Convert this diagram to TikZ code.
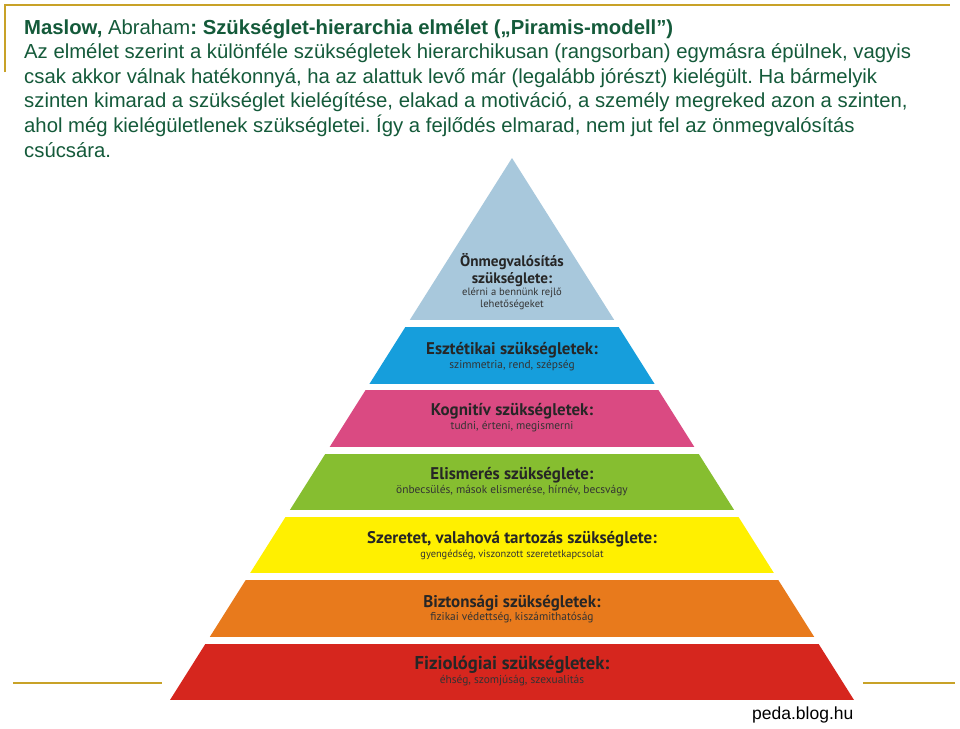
\documentclass[tikz,border=0pt]{standalone}
\usepackage{fontspec}
\setmainfont{Liberation Sans}
\newfontfamily\pyrfont{PT Sans}
\usepackage{xcolor}
\usepackage{tikz}
\usetikzlibrary{positioning}
\frenchspacing

\definecolor{hdgreen}{RGB}{20,90,58}
\definecolor{goldline}{RGB}{200,162,40}
\definecolor{lvlA}{RGB}{168,200,220}
\definecolor{lvlB}{RGB}{22,158,220}
\definecolor{lvlC}{RGB}{218,74,130}
\definecolor{lvlD}{RGB}{134,190,48}
\definecolor{lvlE}{RGB}{255,240,0}
\definecolor{lvlF}{RGB}{232,122,28}
\definecolor{lvlG}{RGB}{214,38,30}

\begin{document}
\begin{tikzpicture}[
    x=1pt, y=-1pt,
    gold/.style={draw=goldline, line width=2.5pt},
    hdtext/.style={anchor=north west, inner sep=0pt, align=left, text=hdgreen, font=\fontsize{20.3}{24.6}\selectfont},
    ttl/.style={inner sep=0pt, align=center, text=black!85, font=\pyrfont\bfseries\fontsize{16.9}{17}\selectfont},
    sub/.style={inner sep=0pt, align=center, text=black!80, font=\pyrfont\fontsize{11.4}{12.5}\selectfont}
]
    \useasboundingbox [fill=white] (0,0) rectangle (960,728);

    % frame lines
    \draw [gold] (5,72) -- (5,5) -- (950,5);
    \draw [gold] (13,683) -- (162,683);
    \draw [gold] (863,683) -- (955,683);

    % heading
    \node [hdtext] (intro) at (24,19) {\textbf{Maslow,} Abraham\textbf{: Szükséglet-hierarchia elmélet („Piramis-modell”)}\\
        Az elmélet szerint a különféle szükségletek hierarchikusan (rangsorban) egymásra épülnek, vagyis\\
        csak akkor válnak hatékonnyá, ha az alattuk levő már (legalább jórészt) kielégült. Ha bármelyik\\
        szinten kimarad a szükséglet kielégítése, elakad a motiváció, a személy megreked azon a szinten,\\
        ahol még kielégületlenek szükségletei. Így a fejlődés elmarad, nem jut fel az önmegvalósítás\\
        csúcsára.};

    % pyramid levels
    \begin{scope}
        \clip (512,158) -- (170,700) -- (854,700) -- cycle;
        \fill [lvlA] (150,150) rectangle (870,320);
        \fill [lvlB] (150,327) rectangle (870,383.5);
        \fill [lvlC] (150,390.3) rectangle (870,446.8);
        \fill [lvlD] (150,453.6) rectangle (870,510.1);
        \fill [lvlE] (150,516.9) rectangle (870,573.4);
        \fill [lvlF] (150,580.2) rectangle (870,636.7);
        \fill [lvlG] (150,643.5) rectangle (870,700);
    \end{scope}

    \node [ttl, font=\pyrfont\bfseries\fontsize{15.2}{17}\selectfont] (tA) at (512,270) {Önmegvalósítás\\szükséglete:};
    \node [sub, font=\pyrfont\fontsize{10.6}{12.5}\selectfont] (sA) at (512,299) {elérni a bennünk rejlő\\lehetőségeket};
    \node [ttl] (tB) at (512,350) {Esztétikai szükségletek:};
    \node [sub] (sB) at (512,366) {szimmetria, rend, szépség};
    \node [ttl] (tC) at (512,411) {Kognitív szükségletek:};
    \node [sub] (sC) at (512,427) {tudni, érteni, megismerni};
    \node [ttl] (tD) at (512,475) {Elismerés szükséglete:};
    \node [sub] (sD) at (512,491) {önbecsülés, mások elismerése, hírnév, becsvágy};
    \node [ttl] (tE) at (512,539) {Szeretet, valahová tartozás szükséglete:};
    \node [sub, font=\pyrfont\fontsize{10.4}{12.5}\selectfont] (sE) at (512,555) {gyengédség, viszonzott szeretetkapcsolat};
    \node [ttl] (tF) at (512,603) {Biztonsági szükségletek:};
    \node [sub] (sF) at (512,618) {fizikai védettség, kiszámithatóság};
    \node [ttl, font=\pyrfont\bfseries\fontsize{18.6}{19}\selectfont] (tG) at (512,665) {Fiziológiai szükségletek:};
    \node [sub] (sG) at (512,681) {éhség, szomjúság, szexualitás};

    \node [anchor=west, inner sep=0pt, font=\fontsize{17.5}{20}\selectfont] (src) at (752,715) {peda.blog.hu};
\end{tikzpicture}
\end{document}
